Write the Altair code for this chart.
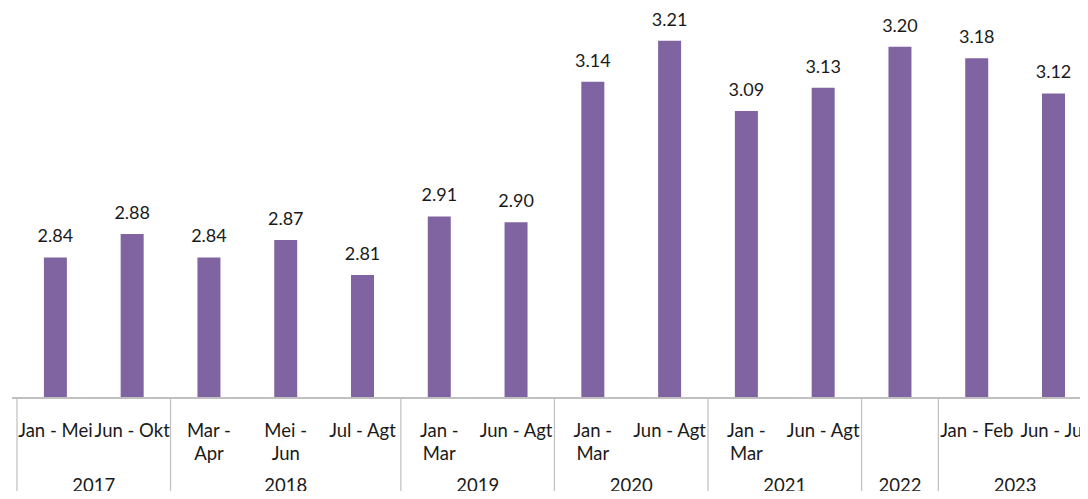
import altair as alt
import pandas as pd

periods = ["Jan - Mei", "Jun - Okt", "Mar -\nApr", "Mei -\nJun", "Jul - Agt",
           "Jan -\nMar", "Jun - Agt", "Jan -\nMar", "Jun - Agt", "Jan -\nMar",
           "Jun - Agt", "", "Jan - Feb", "Jun - Jul"]
values = [2.84, 2.88, 2.84, 2.87, 2.81, 2.91, 2.90, 3.14, 3.21, 3.09, 3.13, 3.20, 3.18, 3.12]
value_labels = ["2.84", "2.88", "2.84", "2.87", "2.81", "2.91", "2.90", "3.14", "3.21",
                "3.09", "3.13", "3.20", "3.18", "3.12"]
year_labels = ["2017", "2018", "2019", "2020", "2021", "2022", "2023"]
year_counts = [2, 3, 2, 2, 2, 1, 2]

W = 1068
H = 390
FONT = "Lato"
PURPLE = "#8064A2"
LINE = "#BFBFBF"
TXT = "#1a1a1a"

bars = pd.DataFrame({
    "pos": [i + 0.5 for i in range(len(values))],
    "value": values,
    "label": value_labels,
    "period": periods,
})

starts, centers = [], []
s = 0
for c in year_counts:
    starts.append(s)
    centers.append(s + c / 2)
    s += c
years = pd.DataFrame({"start": starts, "center": centers, "year": year_labels})

xs = alt.Scale(domain=[0, 13.78], nice=False, zero=False)
ys = alt.Scale(domain=[2.6, 3.266], nice=False, zero=False)

base = alt.Chart(bars)

bar = base.mark_bar(size=23, color=PURPLE).encode(
    x=alt.X("pos:Q", scale=xs, axis=None),
    y=alt.Y("value:Q", scale=ys, axis=None),
    y2=alt.datum(2.6),
)

vals = base.mark_text(font=FONT, fontSize=18, color=TXT, baseline="middle", dy=-20).encode(
    x=alt.X("pos:Q", scale=xs),
    y=alt.Y("value:Q", scale=ys),
    text="label:N",
)

cats = base.mark_text(font=FONT, fontSize=18.5, color=TXT, baseline="top",
                      lineBreak="\n", lineHeight=23).encode(
    x=alt.X("pos:Q", scale=xs),
    y=alt.value(H + 24),
    text="period:N",
)

axis_line = base.mark_rule(color=LINE, strokeWidth=1.2).encode(
    x=alt.value(0), x2=alt.value(W), y=alt.value(H), y2=alt.value(H)
)

ylines = alt.Chart(years).mark_rule(color=LINE, strokeWidth=1.2).encode(
    x=alt.X("start:Q", scale=xs),
    y=alt.value(H),
    y2=alt.value(H + 100),
)

ytext = alt.Chart(years).mark_text(font=FONT, fontSize=18.5, color=TXT, baseline="top").encode(
    x=alt.X("center:Q", scale=xs),
    y=alt.value(H + 79),
    text="year:N",
)

chart = alt.layer(bar, vals, cats, axis_line, ylines, ytext).properties(
    width=W,
    height=H,
    background="white",
    autosize=alt.AutoSizeParams(type="none"),
    padding={"left": 4, "top": 0, "right": 0, "bottom": 93},
).configure_view(stroke=None)

chart.save("out.html", embed_options={"renderer": "svg", "actions": False})
